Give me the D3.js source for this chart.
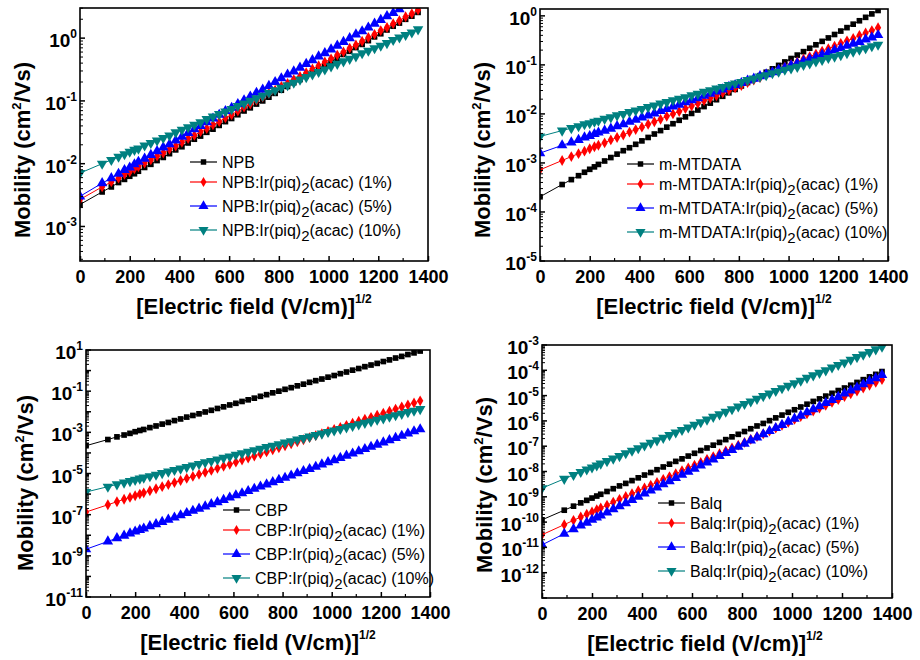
<!DOCTYPE html>
<html>
<head>
<meta charset="utf-8">
<script src="https://cdn.jsdelivr.net/npm/d3@7"></script>
<style>
  body { margin: 0; background: #fff; }
  svg { display: block; }
  text { font-family: Arial, "Liberation Sans", sans-serif; fill: #000; }
</style>
</head>
<body>
<div id="chart"></div>
<script>

// sqrt of the applied field, shared by every curve
const fieldSqrt = [0,89,126,155,179,200,219,235,260,285,310,335,360,385,410,435,460,485,510,535,560,585,610,635,660,685,710,735,760,785,810,835,860,885,910,935,960,985,1010,1035,1060,1085,1110,1135,1160,1185,1210,1235,1260,1285,1310,1335,1360];

// log10 of mobility (cm2/Vs)
const npb = [-2.65,-2.45,-2.37,-2.30,-2.25,-2.20,-2.16,
  -2.12,-2.06,-2.01,-1.95,-1.90,-1.84,-1.78,-1.73,-1.67,-1.61,
  -1.56,-1.50,-1.45,-1.39,-1.33,-1.28,-1.22,-1.16,-1.11,-1.05,
  -1.00,-0.94,-0.88,-0.83,-0.77,-0.71,-0.66,-0.60,-0.55,-0.49,
  -0.43,-0.38,-0.32,-0.26,-0.21,-0.15,-0.10,-0.04,0.02,0.07,
  0.13,0.19,0.24,0.30,0.35,0.41];
const npbIr1 = [-2.57,-2.37,-2.29,-2.23,-2.17,-2.13,-2.08,
  -2.05,-1.99,-1.94,-1.88,-1.83,-1.77,-1.72,-1.66,-1.60,-1.55,
  -1.49,-1.44,-1.38,-1.33,-1.27,-1.22,-1.16,-1.10,-1.05,-0.99,
  -0.94,-0.88,-0.83,-0.77,-0.72,-0.66,-0.61,-0.55,-0.49,-0.44,
  -0.38,-0.33,-0.27,-0.22,-0.16,-0.11,-0.05,0.01,0.06,0.12,
  0.17,0.23,0.28,0.34,0.39,0.45];
const npbIr5 = [-2.52,-2.31,-2.23,-2.16,-2.10,-2.06,-2.01,
  -1.97,-1.92,-1.86,-1.80,-1.74,-1.69,-1.63,-1.57,-1.51,-1.45,
  -1.40,-1.34,-1.28,-1.22,-1.16,-1.11,-1.05,-0.99,-0.93,-0.87,
  -0.82,-0.76,-0.70,-0.64,-0.58,-0.53,-0.47,-0.41,-0.35,-0.29,
  -0.24,-0.18,-0.12,-0.06,0.00,0.06,0.11,0.17,0.23,0.29,
  0.35,0.40,0.46,0.52,0.58,0.64];
const npbIr10 = [-2.15,-2.00,-1.94,-1.89,-1.85,-1.81,-1.78,
  -1.76,-1.71,-1.67,-1.63,-1.59,-1.55,-1.50,-1.46,-1.42,-1.38,
  -1.34,-1.29,-1.25,-1.21,-1.17,-1.13,-1.08,-1.04,-1.00,-0.96,
  -0.92,-0.87,-0.83,-0.79,-0.75,-0.71,-0.66,-0.62,-0.58,-0.54,
  -0.50,-0.45,-0.41,-0.37,-0.33,-0.29,-0.24,-0.20,-0.16,-0.12,
  -0.08,-0.03,0.01,0.05,0.09,0.14];

const mtdata = [-3.69,-3.44,-3.34,-3.26,-3.19,-3.13,-3.08,
  -3.03,-2.96,-2.89,-2.82,-2.75,-2.69,-2.62,-2.55,-2.48,-2.41,
  -2.34,-2.27,-2.20,-2.13,-2.06,-1.99,-1.92,-1.85,-1.78,-1.71,
  -1.64,-1.57,-1.50,-1.43,-1.36,-1.29,-1.22,-1.15,-1.08,-1.01,
  -0.94,-0.87,-0.80,-0.73,-0.66,-0.59,-0.52,-0.45,-0.38,-0.31,
  -0.24,-0.17,-0.10,-0.03,0.04,0.11];
const mtdataIr1 = [-3.14,-2.95,-2.87,-2.81,-2.76,-2.71,-2.67,
  -2.64,-2.59,-2.53,-2.48,-2.43,-2.37,-2.32,-2.27,-2.21,-2.16,
  -2.11,-2.05,-2.00,-1.95,-1.89,-1.84,-1.79,-1.73,-1.68,-1.63,
  -1.57,-1.52,-1.47,-1.42,-1.36,-1.31,-1.26,-1.20,-1.15,-1.10,
  -1.04,-0.99,-0.94,-0.88,-0.83,-0.78,-0.72,-0.67,-0.62,-0.56,
  -0.51,-0.46,-0.40,-0.35,-0.30,-0.24];
const mtdataIr5 = [-2.80,-2.64,-2.58,-2.53,-2.48,-2.45,-2.41,
  -2.38,-2.34,-2.30,-2.25,-2.21,-2.16,-2.12,-2.07,-2.03,-1.99,
  -1.94,-1.90,-1.85,-1.81,-1.76,-1.72,-1.68,-1.63,-1.59,-1.54,
  -1.50,-1.45,-1.41,-1.37,-1.32,-1.28,-1.23,-1.19,-1.15,-1.10,
  -1.06,-1.01,-0.97,-0.92,-0.88,-0.84,-0.79,-0.75,-0.70,-0.66,
  -0.61,-0.57,-0.53,-0.48,-0.44,-0.39];
const mtdataIr10 = [-2.46,-2.34,-2.29,-2.25,-2.21,-2.19,-2.16,
  -2.14,-2.10,-2.07,-2.03,-2.00,-1.96,-1.93,-1.90,-1.86,-1.83,
  -1.79,-1.76,-1.72,-1.69,-1.66,-1.62,-1.59,-1.55,-1.52,-1.48,
  -1.45,-1.41,-1.38,-1.35,-1.31,-1.28,-1.24,-1.21,-1.17,-1.14,
  -1.10,-1.07,-1.04,-1.00,-0.97,-0.93,-0.90,-0.86,-0.83,-0.80,
  -0.76,-0.73,-0.69,-0.66,-0.62,-0.59];

const cbp = [-3.65,-3.35,-3.22,-3.13,-3.05,-2.97,-2.91,
  -2.86,-2.77,-2.69,-2.60,-2.52,-2.43,-2.35,-2.26,-2.18,-2.10,
  -2.01,-1.93,-1.84,-1.76,-1.67,-1.59,-1.50,-1.42,-1.34,-1.25,
  -1.17,-1.08,-1.00,-0.91,-0.83,-0.74,-0.66,-0.57,-0.49,-0.41,
  -0.32,-0.24,-0.15,-0.07,0.02,0.10,0.19,0.27,0.35,0.44,
  0.52,0.61,0.69,0.78,0.86,0.95];
const cbpIr1 = [-6.87,-6.52,-6.37,-6.25,-6.16,-6.08,-6.00,
  -5.94,-5.84,-5.74,-5.64,-5.54,-5.44,-5.34,-5.24,-5.14,-5.04,
  -4.94,-4.85,-4.75,-4.65,-4.55,-4.45,-4.35,-4.25,-4.15,-4.05,
  -3.95,-3.85,-3.75,-3.65,-3.56,-3.46,-3.36,-3.26,-3.16,-3.06,
  -2.96,-2.86,-2.76,-2.66,-2.56,-2.46,-2.36,-2.27,-2.17,-2.07,
  -1.97,-1.87,-1.77,-1.67,-1.57,-1.47];
const cbpIr5 = [-8.68,-8.30,-8.14,-8.02,-7.91,-7.82,-7.74,
  -7.67,-7.56,-7.46,-7.35,-7.24,-7.14,-7.03,-6.92,-6.81,-6.71,
  -6.60,-6.49,-6.39,-6.28,-6.17,-6.06,-5.96,-5.85,-5.74,-5.63,
  -5.53,-5.42,-5.31,-5.21,-5.10,-4.99,-4.88,-4.78,-4.67,-4.56,
  -4.45,-4.35,-4.24,-4.13,-4.03,-3.92,-3.81,-3.70,-3.60,-3.49,
  -3.38,-3.27,-3.17,-3.06,-2.95,-2.85];
const cbpIr10 = [-5.90,-5.64,-5.53,-5.44,-5.37,-5.31,-5.25,
  -5.20,-5.13,-5.06,-4.98,-4.91,-4.83,-4.76,-4.69,-4.61,-4.54,
  -4.46,-4.39,-4.32,-4.24,-4.17,-4.09,-4.02,-3.95,-3.87,-3.80,
  -3.72,-3.65,-3.58,-3.50,-3.43,-3.35,-3.28,-3.21,-3.13,-3.06,
  -2.98,-2.91,-2.84,-2.76,-2.69,-2.61,-2.54,-2.47,-2.39,-2.32,
  -2.24,-2.17,-2.10,-2.02,-1.95,-1.87];

const balq = [-9.91,-9.53,-9.37,-9.24,-9.14,-9.05,-8.97,
  -8.90,-8.79,-8.68,-8.57,-8.47,-8.36,-8.25,-8.14,-8.04,-7.93,
  -7.82,-7.71,-7.60,-7.50,-7.39,-7.28,-7.17,-7.07,-6.96,-6.85,
  -6.74,-6.63,-6.53,-6.42,-6.31,-6.20,-6.10,-5.99,-5.88,-5.77,
  -5.66,-5.56,-5.45,-5.34,-5.23,-5.13,-5.02,-4.91,-4.80,-4.70,
  -4.59,-4.48,-4.37,-4.26,-4.16,-4.05];
const balqIr1 = [-10.50,-10.10,-9.93,-9.80,-9.69,-9.60,-9.51,
  -9.44,-9.33,-9.21,-9.10,-8.99,-8.88,-8.76,-8.65,-8.54,-8.43,
  -8.31,-8.20,-8.09,-7.97,-7.86,-7.75,-7.64,-7.52,-7.41,-7.30,
  -7.19,-7.07,-6.96,-6.85,-6.73,-6.62,-6.51,-6.40,-6.28,-6.17,
  -6.06,-5.94,-5.83,-5.72,-5.61,-5.49,-5.38,-5.27,-5.16,-5.04,
  -4.93,-4.82,-4.70,-4.59,-4.48,-4.37];
const balqIr5 = [-10.90,-10.46,-10.28,-10.13,-10.02,-9.91,-9.82,
  -9.74,-9.62,-9.49,-9.37,-9.25,-9.12,-9.00,-8.87,-8.75,-8.63,
  -8.50,-8.38,-8.26,-8.13,-8.01,-7.89,-7.76,-7.64,-7.52,-7.39,
  -7.27,-7.15,-7.02,-6.90,-6.77,-6.65,-6.53,-6.40,-6.28,-6.16,
  -6.03,-5.91,-5.79,-5.66,-5.54,-5.42,-5.29,-5.17,-5.05,-4.92,
  -4.80,-4.68,-4.55,-4.43,-4.31,-4.18];
const balqIr10 = [-8.66,-8.29,-8.14,-8.02,-7.92,-7.84,-7.76,
  -7.69,-7.59,-7.49,-7.39,-7.28,-7.18,-7.08,-6.97,-6.87,-6.77,
  -6.67,-6.56,-6.46,-6.36,-6.26,-6.15,-6.05,-5.95,-5.84,-5.74,
  -5.64,-5.54,-5.43,-5.33,-5.23,-5.13,-5.02,-4.92,-4.82,-4.71,
  -4.61,-4.51,-4.41,-4.30,-4.20,-4.10,-4.00,-3.89,-3.79,-3.69,
  -3.58,-3.48,-3.38,-3.28,-3.17,-3.07];

// labels and ticks
const hosts = ["NPB", "m-MTDATA", "CBP", "Balq"];
const dopings = ["1%", "5%", "10%"];
const xTicks = [0, 200, 400, 600, 800, 1000, 1200, 1400];
const xMinorTicks = [100, 300, 500, 700, 900, 1100, 1300];
const yLabelExps = [[0, -1, -2, -3], [0, -1, -2, -3, -4, -5], [1, -1, -3, -5, -7, -9, -11], [-3, -4, -5, -6, -7, -8, -9, -10, -11, -12]];
const yRanges = [[-3.55, 0.48], [-5, 0.14], [-11, 1], [-13, -3]];

// layout for each panel
const panels = [
    {series: [npb, npbIr1, npbIr5, npbIr10], left: 80, right: 428, top: 8, bottom: 261,
     yTitleX: 30, yTitleY: 150, xTitleX: 254, legX: 190, legY: 162},
    {series: [mtdata, mtdataIr1, mtdataIr5, mtdataIr10], left: 540, right: 888, top: 9, bottom: 261,
     yTitleX: 490, yTitleY: 150, xTitleX: 714, legX: 627, legY: 164},
    {series: [cbp, cbpIr1, cbpIr5, cbpIr10], left: 86, right: 430, top: 350, bottom: 597,
     yTitleX: 33, yTitleY: 483, xTitleX: 258, legX: 223, legY: 510},
    {series: [balq, balqIr1, balqIr5, balqIr10], left: 542, right: 892, top: 345, bottom: 598,
     yTitleX: 492, yTitleY: 485, xTitleX: 705, legX: 658, legY: 503}
];

const colors = ["#000000", "#ff0000", "#0000ff", "#008080"];
const symbolTypes = [d3.symbolSquare, d3.symbolDiamond, d3.symbolTriangle, d3.symbolTriangle];
const symbolSizes = [32, 34, 48, 48];
const legendSizes = [30, 30, 44, 44];
const legendOffsets = [0, 20, 44, 68];

const svg = d3.select("#chart").append("svg")
    .attr("width", 920)
    .attr("height", 660);

function markerTransform(px, py, si) {
    return `translate(${px},${py})` + (si === 3 ? " rotate(180)" : "");
}

panels.forEach(function (p, pi) {

    let g = svg.append("g");

    let x = d3.scaleLinear()
        .domain([0, 1400])
        .range([p.left, p.right]);

    let y = d3.scaleLog()
        .domain([Math.pow(10, yRanges[pi][0]), Math.pow(10, yRanges[pi][1])])
        .range([p.bottom, p.top]);

    // clip the data to the frame
    g.append("clipPath")
        .attr("id", "clip" + pi)
        .append("rect")
        .attr("x", p.left)
        .attr("y", p.top)
        .attr("width", p.right - p.left)
        .attr("height", p.bottom - p.top);

    let plot = g.append("g").attr("clip-path", `url(#clip${pi})`);

    let line = d3.line()
        .x(d => x(d.f))
        .y(d => y(d.mu));

    p.series.forEach(function (s, si) {
        let pts = fieldSqrt.map((f, i) => ({f: f, mu: Math.pow(10, s[i])}));

        plot.append("path")
            .datum(pts)
            .attr("d", line)
            .attr("fill", "none")
            .attr("stroke", colors[si])
            .attr("stroke-width", 1);

        plot.selectAll(null)
            .data(pts)
            .enter().append("path")
            .attr("d", d3.symbol(symbolTypes[si], symbolSizes[si]))
            .attr("transform", d => markerTransform(x(d.f), y(d.mu), si))
            .attr("fill", colors[si]);
    });

    // x axis, ticks inward
    let xAxis = d3.axisBottom(x)
        .tickValues(xTicks)
        .tickSizeInner(-5)
        .tickSizeOuter(0)
        .tickPadding(9)
        .tickFormat(d3.format("d"));

    g.append("g")
        .attr("transform", `translate(0,${p.bottom})`)
        .call(xAxis)
        .call(a => a.select(".domain").remove())
        .call(a => a.selectAll("line").attr("stroke", "#000").attr("stroke-width", 1.5))
        .call(a => a.selectAll("text")
            .attr("font-size", 18)
            .attr("font-weight", "bold")
            .attr("font-family", 'Arial, "Liberation Sans", sans-serif')
            .attr("fill", "#000"));

    xMinorTicks.forEach(function (t) {
        g.append("line")
            .attr("x1", x(t)).attr("x2", x(t))
            .attr("y1", p.bottom).attr("y2", p.bottom - 3)
            .attr("stroke", "#000").attr("stroke-width", 1.2);
    });

    // y ticks: decades and 2..9 minor ticks
    let lo = yRanges[pi][0], hi = yRanges[pi][1];
    for (let k = Math.floor(lo); k <= Math.ceil(hi); k++) {
        for (let m = 1; m <= 9; m++) {
            let v = m * Math.pow(10, k);
            let lv = Math.log10(v);
            if (lv < lo - 1e-9 || lv > hi + 1e-9) continue;
            g.append("line")
                .attr("x1", p.left).attr("x2", p.left + (m === 1 ? 5 : 3))
                .attr("y1", y(v)).attr("y2", y(v))
                .attr("stroke", "#000").attr("stroke-width", m === 1 ? 1.5 : 1);
        }
    }

    yLabelExps[pi].forEach(function (e) {
        let t = g.append("text")
            .attr("x", p.left - 3)
            .attr("y", y(Math.pow(10, e)) + 9)
            .attr("text-anchor", "end")
            .attr("font-weight", "bold")
            .attr("font-size", 19);
        t.append("tspan").text("10");
        t.append("tspan").attr("dy", -9).attr("font-size", 12).text(e);
    });

    // frame
    g.append("rect")
        .attr("x", p.left)
        .attr("y", p.top)
        .attr("width", p.right - p.left)
        .attr("height", p.bottom - p.top)
        .attr("fill", "none")
        .attr("stroke", "#000")
        .attr("stroke-width", 1.6);

    // axis titles
    let xt = g.append("text")
        .attr("x", p.xTitleX)
        .attr("y", p.bottom + 53)
        .attr("text-anchor", "middle")
        .attr("font-weight", "bold")
        .attr("font-size", 22);
    xt.append("tspan").text("[Electric field (V/cm)]");
    xt.append("tspan").attr("dy", -11).attr("font-size", 12).text("1/2");

    let yt = g.append("text")
        .attr("transform", `translate(${p.yTitleX},${p.yTitleY}) rotate(-90)`)
        .attr("text-anchor", "middle")
        .attr("font-weight", "bold")
        .attr("font-size", 22);
    yt.append("tspan").text("Mobility (cm");
    yt.append("tspan").attr("dy", -9).attr("font-size", 13).text("2");
    yt.append("tspan").attr("dy", 9).text("/Vs)");

    // legend
    p.series.forEach(function (s, si) {
        let ly = p.legY + legendOffsets[si];
        g.append("line")
            .attr("x1", p.legX).attr("x2", p.legX + 27)
            .attr("y1", ly).attr("y2", ly)
            .attr("stroke", colors[si]).attr("stroke-width", 1.2);
        g.append("path")
            .attr("d", d3.symbol(symbolTypes[si], legendSizes[si]))
            .attr("transform", markerTransform(p.legX + 13.5, ly, si))
            .attr("fill", colors[si]);

        let lt = g.append("text")
            .attr("x", p.legX + 32)
            .attr("y", ly + 6)
            .attr("font-size", 16);
        if (si === 0) {
            lt.append("tspan").text(hosts[pi]);
        } else {
            lt.append("tspan").text(hosts[pi] + ":Ir(piq)");
            lt.append("tspan").attr("dy", 5).attr("font-size", 15).text("2");
            lt.append("tspan").attr("dy", -5).text("(acac) (" + dopings[si - 1] + ")");
        }
    });
});
</script>
</body>
</html>
